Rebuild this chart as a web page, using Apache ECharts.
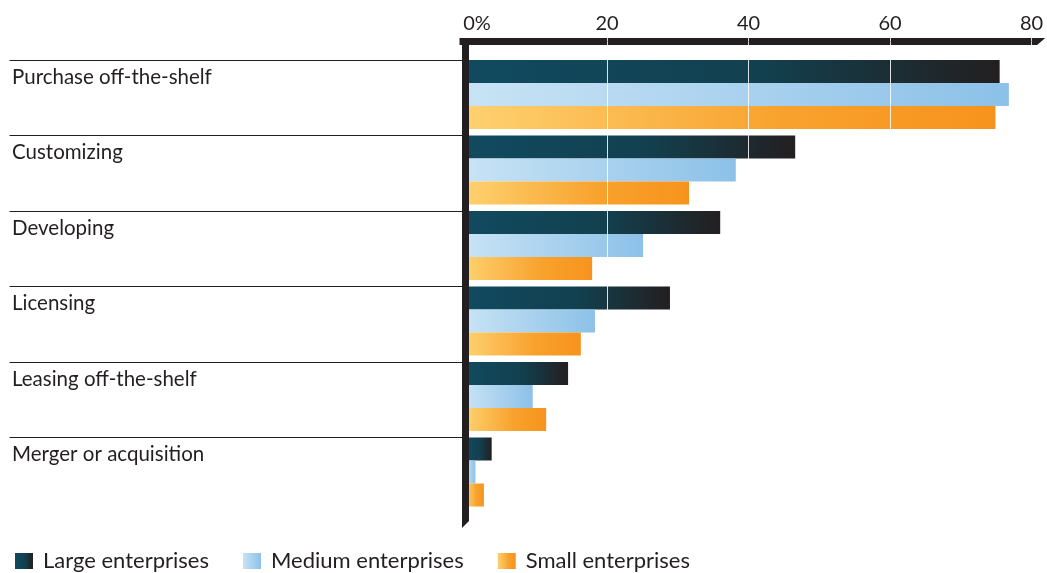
<!DOCTYPE html>
<html><head><meta charset="utf-8">
<script src="https://cdn.jsdelivr.net/npm/echarts@6/dist/echarts.min.js"></script>
<style>html,body{margin:0;padding:0;background:#fff}#c{width:1047px;height:573px}</style>
</head><body><div id="c"></div>
<script>
// ---- data ----
const categories = ['Purchase off-the-shelf', 'Customizing', 'Developing', 'Licensing', 'Leasing off-the-shelf', 'Merger or acquisition'];
const seriesNames = ['Large enterprises', 'Medium enterprises', 'Small enterprises'];
const largeValues = [75.5, 46.6, 36.0, 28.9, 14.5, 3.7];
const mediumValues = [76.8, 38.2, 25.1, 18.3, 9.5, 1.4];
const smallValues = [74.9, 31.6, 17.9, 16.3, 11.4, 2.6];
const tickLabels = ['0%', '20', '40', '60', '80'];

// ---- styling ----
const FONT = 'Lato';
const INK = '#231f20';
function grad(stops) {
  return new echarts.graphic.LinearGradient(0, 0, 1, 0, stops.map(s => ({ offset: s[0], color: s[1] })));
}
const fills = [
  grad([[0, '#114a60'], [0.55, '#12404f'], [1, '#231f20']]),
  grad([[0, '#c8e3f5'], [1, '#8cc1e8']]),
  grad([[0, '#fed170'], [0.6, '#f8a22d'], [1, '#f7931d']])
];
const valueSets = [largeValues, mediumValues, smallValues];

const GL = 465.5, GW = 566;
const endWedge = 'path://M0,13L0,0L7,8L7,13Z';
const bottomWedge = 'path://M7,22L0,22L0,7L7,0Z';

const chart = echarts.init(document.getElementById('c'), null, { renderer: 'canvas' });
chart.setOption({
  animation: false,
  backgroundColor: '#ffffff',
  textStyle: { fontFamily: FONT, color: INK },
  grid: [
    { left: GL, width: GW, top: 56.75, height: 453 },
    { left: GL, width: GW, top: 60, height: 453 }
  ],
  legend: {
    left: 10, top: 545,
    data: seriesNames,
    icon: 'rect', itemWidth: 18, itemHeight: 16, itemGap: 34,
    textStyle: { fontFamily: FONT, fontSize: 22, color: INK, padding: [0, 0, 0, 5] }
  },
  xAxis: [
    {
      type: 'value', gridIndex: 0, position: 'top', offset: 15.25,
      min: 0, max: 80, interval: 20, z: 5,
      axisLine: { show: true, lineStyle: { color: INK, width: 7 }, symbol: ['rect', endWedge], symbolSize: [7, 13], symbolOffset: [0.5, 7.2] },
      axisTick: { show: true, inside: true, length: 3.5, lineStyle: { color: '#d6d6d6', width: 1 } },
      splitLine: { show: true, lineStyle: { color: 'rgba(255,255,255,0.85)', width: 1 } },
      axisLabel: {
        margin: 7.5, fontSize: 20, color: INK, fontFamily: FONT,
        formatter: function (v) { const i = Math.round(v / 20); return i === 0 ? '{z|' + tickLabels[0] + '}' : tickLabels[i]; },
        rich: { z: { padding: [0, 0, 0, 23], fontSize: 20, fontFamily: FONT, color: INK } }
      }
    },
    {
      type: 'value', gridIndex: 1, position: 'top', offset: 18.5,
      min: 0, max: 80, interval: 20, z: 5,
      axisLine: { show: false },
      axisTick: { show: true, inside: false, length: 3.5, lineStyle: { color: '#d6d6d6', width: 1 } },
      splitLine: { show: false },
      axisLabel: { show: false }
    }
  ],
  yAxis: [
    {
      type: 'category', gridIndex: 0, inverse: true, data: categories,
      axisLine: { show: false }, axisTick: { show: false },
      axisLabel: {
        align: 'left', margin: GL - 12, verticalAlign: 'bottom', padding: [0, 0, 7, 0],
        fontSize: 20.5, color: INK, fontFamily: FONT
      }
    },
    {
      type: 'category', gridIndex: 1, inverse: true, boundaryGap: false, offset: 2.5, z: 5,
      data: categories.concat(['']),
      axisLine: { show: true, lineStyle: { color: INK, width: 7 }, symbol: [bottomWedge, 'rect'], symbolSize: [7, 22], symbolOffset: [-4, 11] },
      axisTick: { show: true, length: 456, interval: function (i) { return i < categories.length; }, lineStyle: { color: INK, width: 1 } },
      axisLabel: { show: false },
      splitLine: { show: false }
    }
  ],
  series: seriesNames.map((name, k) => ({
    name: name, type: 'bar', xAxisIndex: 0, yAxisIndex: 0,
    barWidth: 23, barGap: '0%',
    itemStyle: { color: fills[k] },
    data: valueSets[k]
  }))
});
</script></body></html>
